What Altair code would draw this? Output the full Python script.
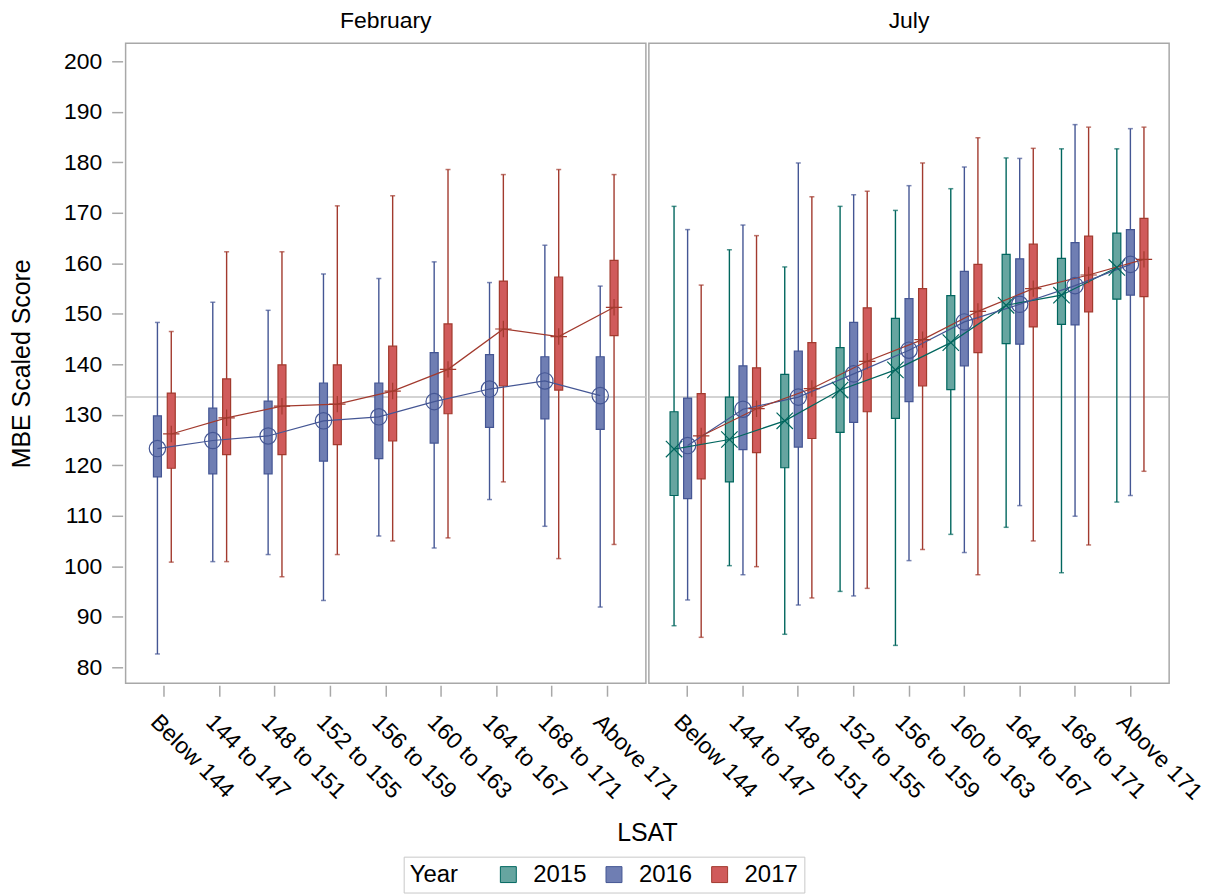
import altair as alt
import pandas as pd

categories = ["Below 144", "144 to 147", "148 to 151", "152 to 155", "156 to 159",
              "160 to 163", "164 to 167", "168 to 171", "Above 171"]
years = ["2015", "2016", "2017"]
fill_colors = ["#66A5A0", "#6F7EB3", "#D05B5B"]
line_colors = ["#01665E", "#445694", "#A23A2E"]
ref_value = [133.5]

# February 2016
feb16_low = [82.6, 100.9, 102.3, 93.2, 106.0, 103.6, 113.2, 107.9, 91.9]
feb16_q1 = [117.7, 118.3, 118.3, 120.8, 121.3, 124.4, 127.5, 129.2, 127.1]
feb16_q3 = [129.8, 131.3, 132.7, 136.3, 136.3, 142.3, 141.9, 141.5, 141.5]
feb16_high = [148.3, 152.3, 150.7, 157.9, 157.0, 160.3, 156.2, 163.6, 155.5]
feb16_mean = [123.3, 124.9, 125.8, 128.8, 129.6, 132.6, 135.1, 136.7, 133.8]
# February 2017
feb17_low = [100.8, 100.9, 97.9, 102.3, 105.0, 105.6, 116.7, 101.5, 104.3]
feb17_q1 = [119.4, 122.1, 122.1, 124.1, 124.8, 130.2, 135.7, 134.9, 145.7]
feb17_q3 = [134.3, 137.1, 139.9, 139.9, 143.6, 148.0, 156.5, 157.3, 160.6]
feb17_high = [146.5, 162.3, 162.3, 171.4, 173.4, 178.6, 177.6, 178.6, 177.6]
feb17_mean = [126.2, 129.4, 131.7, 132.1, 134.7, 139.0, 147.0, 145.5, 151.3]
# July 2015
jul15_low = [88.2, 100.1, 86.5, 95.0, 84.3, 106.3, 107.7, 98.7, 112.7]
jul15_q1 = [114.0, 116.7, 119.5, 126.5, 129.3, 135.0, 144.1, 147.9, 152.9]
jul15_q3 = [130.6, 133.5, 138.0, 143.3, 149.1, 153.6, 161.8, 161.0, 166.0]
jul15_high = [171.3, 162.7, 159.3, 171.3, 170.5, 174.8, 180.9, 182.7, 182.7]
jul15_mean = [123.2, 125.1, 128.8, 134.9, 138.9, 144.3, 151.7, 153.7, 159.2]
# July 2016
jul16_low = [93.3, 98.3, 92.3, 94.1, 101.1, 102.7, 112.0, 109.9, 114.0]
jul16_q1 = [113.4, 123.1, 123.6, 128.5, 132.6, 139.7, 144.0, 147.8, 153.7]
jul16_q3 = [133.3, 139.7, 142.6, 148.3, 153.0, 158.4, 160.9, 164.1, 166.7]
jul16_high = [166.7, 167.6, 179.9, 173.6, 175.4, 179.1, 180.8, 187.5, 186.7]
jul16_mean = [123.9, 131.1, 133.5, 138.1, 142.8, 148.4, 151.9, 155.6, 159.8]
# July 2017
jul17_low = [85.9, 99.9, 93.7, 95.6, 103.3, 98.3, 105.0, 104.2, 118.8]
jul17_q1 = [117.3, 122.5, 125.3, 130.6, 135.7, 142.3, 147.4, 150.4, 153.4]
jul17_q3 = [134.2, 139.3, 144.3, 151.2, 155.0, 159.8, 163.8, 165.4, 168.9]
jul17_high = [155.7, 165.5, 173.2, 174.3, 179.9, 184.9, 182.8, 187.0, 187.0]
jul17_mean = [125.8, 131.2, 135.2, 140.6, 144.9, 150.5, 155.0, 157.7, 160.8]

series = [
    ("February", "2016", feb16_low, feb16_q1, feb16_q3, feb16_high, feb16_mean),
    ("February", "2017", feb17_low, feb17_q1, feb17_q3, feb17_high, feb17_mean),
    ("July", "2015", jul15_low, jul15_q1, jul15_q3, jul15_high, jul15_mean),
    ("July", "2016", jul16_low, jul16_q1, jul16_q3, jul16_high, jul16_mean),
    ("July", "2017", jul17_low, jul17_q1, jul17_q3, jul17_high, jul17_mean),
]
rows = []
for month, yr, lo, q1, q3, hi, mn in series:
    for i, c in enumerate(categories):
        rows.append(dict(month=month, year=yr, grp=yr, cat=c, idx=i, low=lo[i], q1=q1[i],
                         q3=q3[i], high=hi[i], mean=mn[i]))
data = pd.DataFrame(rows)
ref_df = pd.DataFrame({"ref": ref_value})

FONT = "Liberation Sans"
PLUS = "M-1,0L1,0M0,-1L0,1"
XMARK = "M-1,-1L1,1M-1,1L1,-1"
YDOM = [76.8, 203.6]
W, H = 522, 642

fill_scale = alt.Scale(domain=years, range=fill_colors)
stroke_scale = alt.Scale(domain=years, range=line_colors)
# data-driven domains (union across panels) so these hidden scales do not
# merge with, and disable, the Year legend
line_scale = alt.Scale(range=line_colors)
shape_scale = alt.Scale(range=[XMARK, "circle", PLUS])
legend = alt.Legend(
    title="Year", orient="none", legendX=279, legendY=816, direction="horizontal",
    titleOrient="left", titleFontSize=24, titleFontWeight="normal", titleFont=FONT,
    titleColor="black", titlePadding=38, labelFontSize=24, labelFont=FONT,
    labelColor="black", labelOffset=13, columnPadding=15, symbolType="square",
    symbolSize=256, symbolStrokeWidth=1, strokeColor="#c8c8c8", padding=6,
    fillColor="white",
)


def panel(month, pad_off, first):
    df = data[data["month"] == month]
    yrs = sorted(df["year"].unique())
    if first:
        xaxis = alt.Axis(title="LSAT", titleX=523, titleY=156, titleBaseline="alphabetic",
                         titleAlign="center", titleFontSize=25, titleFont=FONT,
                         titleFontWeight="normal", titleColor="black")
        yaxis = alt.Axis(values=list(range(80, 201, 10)), title="MBE Scaled Score",
                         titleFontSize=25, titleFont=FONT, titleFontWeight="normal",
                         titleColor="black", titlePadding=29, tickSize=11, offset=3,
                         domain=False, grid=False, labelFontSize=23, labelFont=FONT,
                         labelColor="black", labelPadding=10, tickColor="#a8a8a8",
                         tickWidth=1.5)
    else:
        xaxis = alt.Axis(title=None)
        yaxis = None
    x = alt.X("cat:N", sort=categories,
              scale=alt.Scale(domain=categories, paddingInner=0, paddingOuter=0.2),
              axis=xaxis)
    xo = alt.XOffset("year:N", sort=yrs,
                     scale=alt.Scale(domain=yrs, paddingInner=0, paddingOuter=pad_off))
    yscale = alt.Scale(domain=YDOM, nice=False, zero=False)
    base = alt.Chart(df)
    col = alt.Color("grp:N", scale=line_scale, legend=None)

    ref = alt.Chart(ref_df).mark_rule(color="#c4c4c4", strokeWidth=1.5).encode(
        y=alt.Y("ref:Q", scale=yscale, axis=yaxis))
    whisk = base.mark_rule(strokeWidth=1.4).encode(
        x=x, xOffset=xo, y=alt.Y("low:Q", scale=yscale), y2="high:Q", color=col)
    cap_lo = base.mark_tick(size=5, thickness=1.5).encode(
        x=x, xOffset=xo, y=alt.Y("low:Q", scale=yscale), color=col)
    cap_hi = base.mark_tick(size=5, thickness=1.5).encode(
        x=x, xOffset=xo, y=alt.Y("high:Q", scale=yscale), color=col)
    box = base.mark_bar(width=8, strokeWidth=1.2).encode(
        x=x, xOffset=xo, y=alt.Y("q1:Q", scale=yscale), y2="q3:Q",
        fill=alt.Fill("year:N", scale=fill_scale, legend=legend),
        stroke=alt.Stroke("year:N", scale=stroke_scale, legend=legend))
    line = base.mark_line(strokeWidth=1.2).encode(
        x=x, xOffset=xo, y=alt.Y("mean:Q", scale=yscale), color=col,
        order="idx:Q")
    pts = base.mark_point(filled=False, size=270, strokeWidth=1.2, opacity=1).encode(
        x=x, xOffset=xo, y=alt.Y("mean:Q", scale=yscale), color=col,
        shape=alt.Shape("grp:N", scale=shape_scale, legend=None))
    return alt.layer(ref, whisk, cap_lo, cap_hi, box, line, pts).properties(
        width=W, height=H,
        title=alt.TitleParams(month, fontSize=23, font=FONT, fontWeight="normal",
                              color="black", baseline="bottom", offset=-13,
                              anchor="middle"))


chart = alt.hconcat(panel("February", 1.0, True), panel("July", 0.54, False),
                    spacing=3, bounds="flush").resolve_scale(
    x="independent", xOffset="independent", y="shared",
    fill="shared", stroke="shared", color="shared", shape="shared",
).configure_view(stroke="#a8a8a8", strokeWidth=1.5).configure_axisX(
    tickSize=11, offset=2, domain=False, grid=False, labelAngle=45, labelAlign="left",
    labelBaseline="middle", labelPadding=22, labelOffset=-10, labelFontSize=23,
    labelFont=FONT, labelColor="black", tickColor="#a8a8a8", tickWidth=1.5,
).properties(
    padding={"left": 0, "top": 0, "right": 5, "bottom": 5},
    background="white",
)

chart.save("out.html", embed_options={"renderer": "svg", "actions": False})
